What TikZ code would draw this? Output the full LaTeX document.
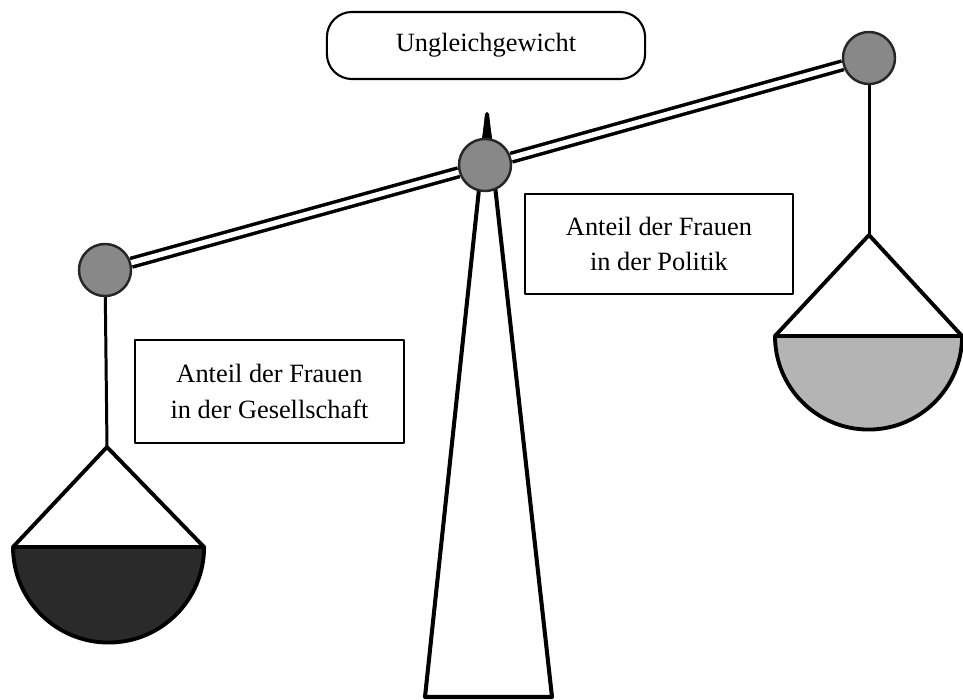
\documentclass[tikz,border=0pt]{standalone}
\usepackage{fontspec}
\setmainfont{Liberation Serif}
\definecolor{ballgray}{HTML}{888888}
\definecolor{pandark}{HTML}{2A2A2A}
\definecolor{panlight}{HTML}{B4B4B4}
\begin{document}
\begin{tikzpicture}[x=0.01cm,y=-0.01cm,line join=round,
  ball/.style={circle,draw=black!85,line width=0.7pt,fill=ballgray,minimum size=0.52cm,inner sep=0pt},
  beam/.style={draw=black,line width=1pt,double=white,double distance=1.5pt},
  stringline/.style={draw=black,line width=0.85pt},
  stand/.style={draw=black,line width=1.15pt},
  needle/.style={fill=black},
  panline/.style={draw=black,line width=1.1pt},
  labelbox/.style={draw=black,line width=0.5pt,align=center,inner sep=0pt,
    font=\fontsize{7.5}{10.2}\selectfont},
  titlebox/.style={draw=black,line width=0.6pt,rounded corners=0.25cm,inner sep=0pt,
    minimum width=3.18cm,minimum height=0.67cm,font=\fontsize{7.5}{10.2}\selectfont}]
\useasboundingbox (0,0) rectangle (963,700);
% stand
\draw[stand] (425,697) -- (487,114) -- (552,697) -- cycle;
\fill[needle] (481,145) -- (485.5,115) -- (488.5,115) -- (493,145) -- cycle;
% balls
\node[ball] (pivot) at (485,165) {};
\node[ball] (lball) at (105,270) {};
\node[ball] (rball) at (869,58) {};
% beam
\draw[beam] (lball) -- (pivot);
\draw[beam] (pivot) -- (rball);
% strings
\coordinate (lapex) at (107,447);
\coordinate (rapex) at (869,235);
\draw[stringline] (lball) -- (lapex);
\draw[stringline] (rball) -- (rapex);
% left pan
\filldraw[panline,fill=pandark] (13,547) arc[start angle=180,end angle=360,radius=0.955cm] -- cycle;
\draw[panline] (13,547) -- (lapex) -- (204,547);
% right pan
\filldraw[panline,fill=panlight] (775,336) arc[start angle=180,end angle=360,radius=0.935cm] -- cycle;
\draw[panline] (775,336) -- (rapex) -- (962,336);
% labels
\node[titlebox] (title) at (486,45.5) {Ungleichgewicht};
\node[labelbox,minimum width=2.69cm,minimum height=1.03cm] (lbox) at (269.5,391.5)
  {Anteil der Frauen\\in der Gesellschaft};
\node[labelbox,minimum width=2.68cm,minimum height=1.0cm] (rbox) at (659,244)
  {Anteil der Frauen\\in der Politik};
\end{tikzpicture}
\end{document}
